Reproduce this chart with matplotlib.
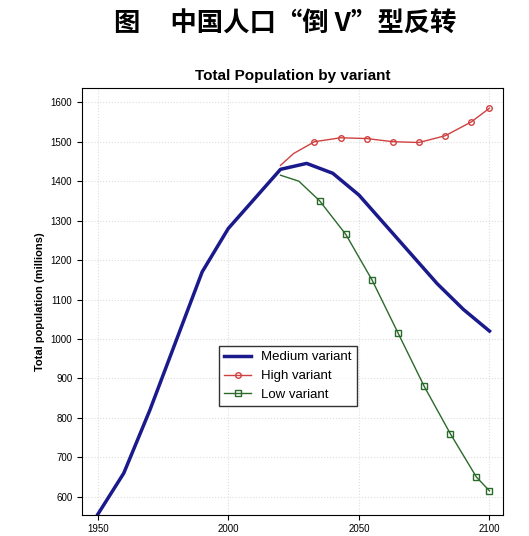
import numpy as np
import matplotlib.pyplot as plt

plt.rcParams['font.family'] = ['Liberation Sans', 'DejaVu Sans']

medYears = [1950, 1960, 1970, 1980, 1990, 2000, 2010, 2020, 2030, 2040, 2050, 2060, 2070, 2080, 2090, 2100]
medPop = [555, 660, 820, 995, 1170, 1280, 1355, 1430, 1445, 1420, 1365, 1290, 1215, 1140, 1075, 1020]

highYears = [2020, 2025, 2033, 2043, 2053, 2063, 2073, 2083, 2093, 2100]
highPop = [1440, 1470, 1500, 1510, 1508, 1500, 1498, 1515, 1550, 1585]

lowYears = [2020, 2027, 2035, 2045, 2055, 2065, 2075, 2085, 2095, 2100]
lowPop = [1415, 1400, 1350, 1265, 1150, 1015, 880, 760, 650, 615]

fig = plt.figure(figsize=(5.29, 5.36), dpi=100)
fig.text(0.54, 0.955, '图     中国人口“倒 V”型反转', ha='center', va='center', fontsize=19,
         fontweight='bold', family=['Noto Sans CJK SC', 'DejaVu Sans'])
ax = fig.add_axes([0.155, 0.04, 0.795, 0.795])

ax.plot(medYears, medPop, color='#1a1a8c', lw=2.5, label='Medium variant')
ax.plot(highYears, highPop, color='#d04040', lw=1, marker='o', ms=4, mfc='none',
        markevery=list(range(2, len(highYears))), label='High variant')
ax.plot(lowYears, lowPop, color='#2a6a2a', lw=1, marker='s', ms=4, mfc='none',
        markevery=list(range(2, len(lowYears))), label='Low variant')

ax.set_xlim(1944, 2105)
ax.set_ylim(555, 1635)
ax.set_xticks([1950, 2000, 2050, 2100])
ax.set_yticks(range(600, 1700, 100))
ax.tick_params(labelsize=7)
ax.grid(True, color='#dddddd', linestyle=':', lw=0.8)
ax.set_title('Total Population by variant', fontsize=11, fontweight='bold')
ax.set_ylabel('Total population (millions)', fontsize=8, fontweight='bold')
ax.legend(loc='center', bbox_to_anchor=(0.49, 0.325), fontsize=9.5, frameon=True,
          edgecolor='black', fancybox=False)

plt.savefig('out.png')
